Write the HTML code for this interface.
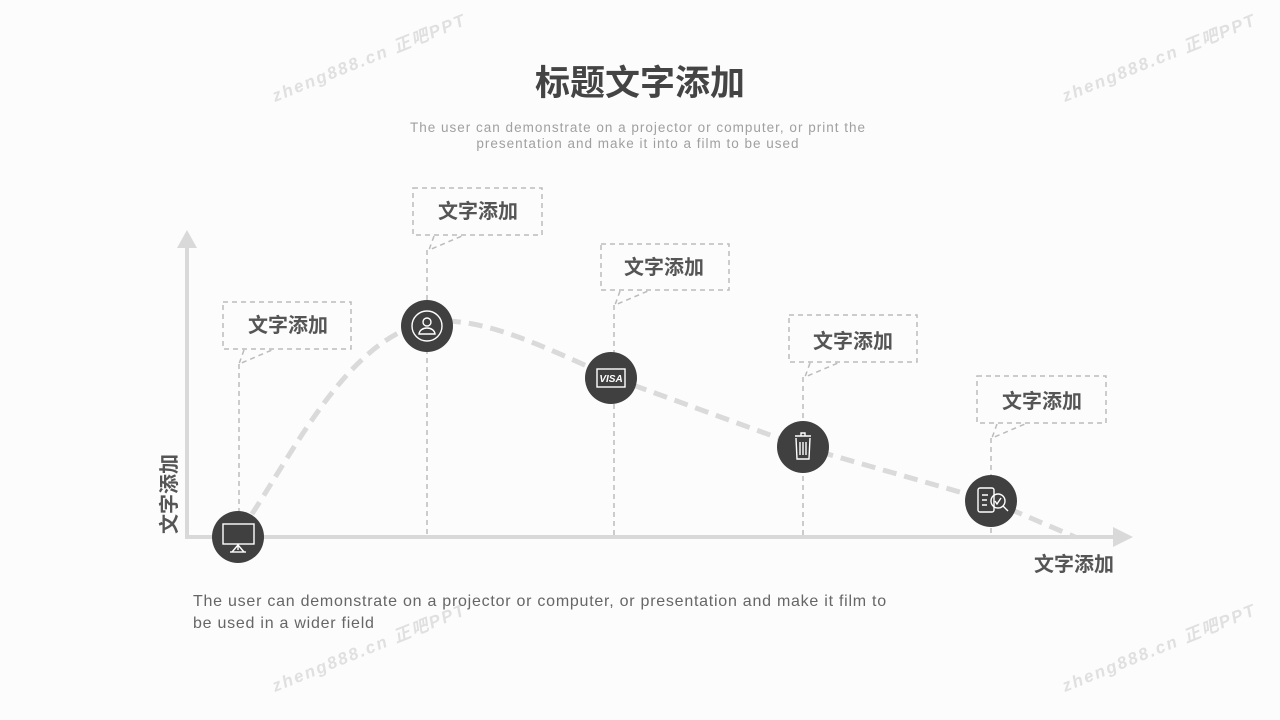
<!DOCTYPE html>
<html><head><meta charset="utf-8"><style>
html,body{margin:0;padding:0;background:#fcfcfc;}
body{width:1280px;height:720px;overflow:hidden;position:relative;font-family:"Liberation Sans","Noto Sans CJK SC",sans-serif;}
svg{position:absolute;left:0;top:0}
</style></head><body>
<svg width="1280" height="720" viewBox="0 0 1280 720" font-family="Liberation Sans, Noto Sans CJK SC, sans-serif">
<rect width="1280" height="720" fill="#fcfcfc"/>
<g fill="#e0e0e0" font-size="17" font-weight="bold" font-style="italic" letter-spacing="2">
<text transform="translate(275,102) rotate(-22)">zheng888.cn 正吧PPT</text>
<text transform="translate(1065,102) rotate(-22)">zheng888.cn 正吧PPT</text>
<text transform="translate(275,692) rotate(-22)">zheng888.cn 正吧PPT</text>
<text transform="translate(1065,692) rotate(-22)">zheng888.cn 正吧PPT</text>
</g>
<text x="640" y="95" text-anchor="middle" font-size="35" font-weight="bold" fill="#444">标题文字添加</text>
<text x="638" y="132" text-anchor="middle" font-size="13.5" letter-spacing="1" fill="#a0a0a0">The user can demonstrate on a projector or computer, or print the</text>
<text x="638" y="148" text-anchor="middle" font-size="13.5" letter-spacing="1" fill="#a0a0a0">presentation and make it into a film to be used</text>
<line x1="187" y1="246" x2="187" y2="537" stroke="#d9d9d9" stroke-width="4"/>
<polygon points="187,230 177,248 197,248" fill="#d9d9d9"/>
<line x1="185" y1="537" x2="1115" y2="537" stroke="#d9d9d9" stroke-width="4"/>
<polygon points="1133,537 1113,527 1113,547" fill="#d9d9d9"/>
<text transform="translate(176,534) rotate(-90)" font-size="20" font-weight="bold" fill="#555">文字添加</text>
<text x="1034" y="571" font-size="20" font-weight="bold" fill="#555">文字添加</text>
<path d="M252,514 C300,440 350,340 427,322 C480,315 540,345 611,377 L803,447 L991,501 L1075,537" fill="none" stroke="#dadada" stroke-width="5" stroke-dasharray="14,8"/>
<g fill="none" stroke="#bbb" stroke-width="1.5" stroke-dasharray="5,4">
<rect x="223" y="302" width="128" height="47"/>
<path d="M244,350 L239,364 L272,350"/><line x1="239" y1="364" x2="239" y2="537"/>
<rect x="413" y="188" width="129" height="47"/>
<path d="M434,236 L429,250 L462,236"/><line x1="427" y1="250" x2="427" y2="537"/>
<rect x="601" y="244" width="128" height="46"/>
<path d="M620,291 L615,305 L648,291"/><line x1="614" y1="305" x2="614" y2="537"/>
<rect x="789" y="315" width="128" height="47"/>
<path d="M810,363 L805,377 L838,363"/><line x1="803" y1="377" x2="803" y2="537"/>
<rect x="977" y="376" width="129" height="47"/>
<path d="M997,424 L992,438 L1025,424"/><line x1="991" y1="438" x2="991" y2="537"/>
</g>
<g font-size="20" font-weight="bold" fill="#555" text-anchor="middle">
<text x="288" y="332">文字添加</text>
<text x="478" y="218">文字添加</text>
<text x="664" y="274">文字添加</text>
<text x="853" y="348">文字添加</text>
<text x="1042" y="408">文字添加</text>
</g>
<g fill="#404040">
<circle cx="238" cy="537" r="26"/><circle cx="427" cy="326" r="26"/><circle cx="611" cy="378" r="26"/><circle cx="803" cy="447" r="26"/><circle cx="991" cy="501" r="26"/>
</g>
<g fill="none" stroke="#fff" stroke-width="1.4">
<rect x="223" y="524" width="31" height="20"/><line x1="238" y1="544" x2="238" y2="550"/><path d="M232,552 L238,545 L244,552"/><line x1="230" y1="552" x2="246" y2="552"/>
<circle cx="427" cy="326" r="15"/><circle cx="427" cy="322" r="4"/><path d="M419,334 C420,326 434,326 435,334 Z"/>
<rect x="597" y="369" width="28" height="18"/>
<path d="M795,436 L811,436 M801,436 L801,433 L805,433 L805,436 M796,438 L797,459 L809,459 L810,438 M800,442 L800,455 M803,442 L803,455 M806,442 L806,455"/>
<rect x="978" y="488" width="16" height="24" rx="2"/><path d="M982,495 L988,495 M982,500 L987,500 M982,505 L987,505"/><circle cx="998" cy="501" r="7"/><path d="M995,501 L997,504 L1001,498 M1003,506 L1008,511"/>
</g>
<text x="611" y="382" text-anchor="middle" font-size="10" font-weight="bold" font-style="italic" fill="#fff">VISA</text>
<text x="193" y="606" font-size="16" letter-spacing="0.75" fill="#666">The user can demonstrate on a projector or computer, or presentation and make it film to</text>
<text x="193" y="628" font-size="16" letter-spacing="0.75" fill="#666">be used in a wider field</text>
</svg>
</body></html>
